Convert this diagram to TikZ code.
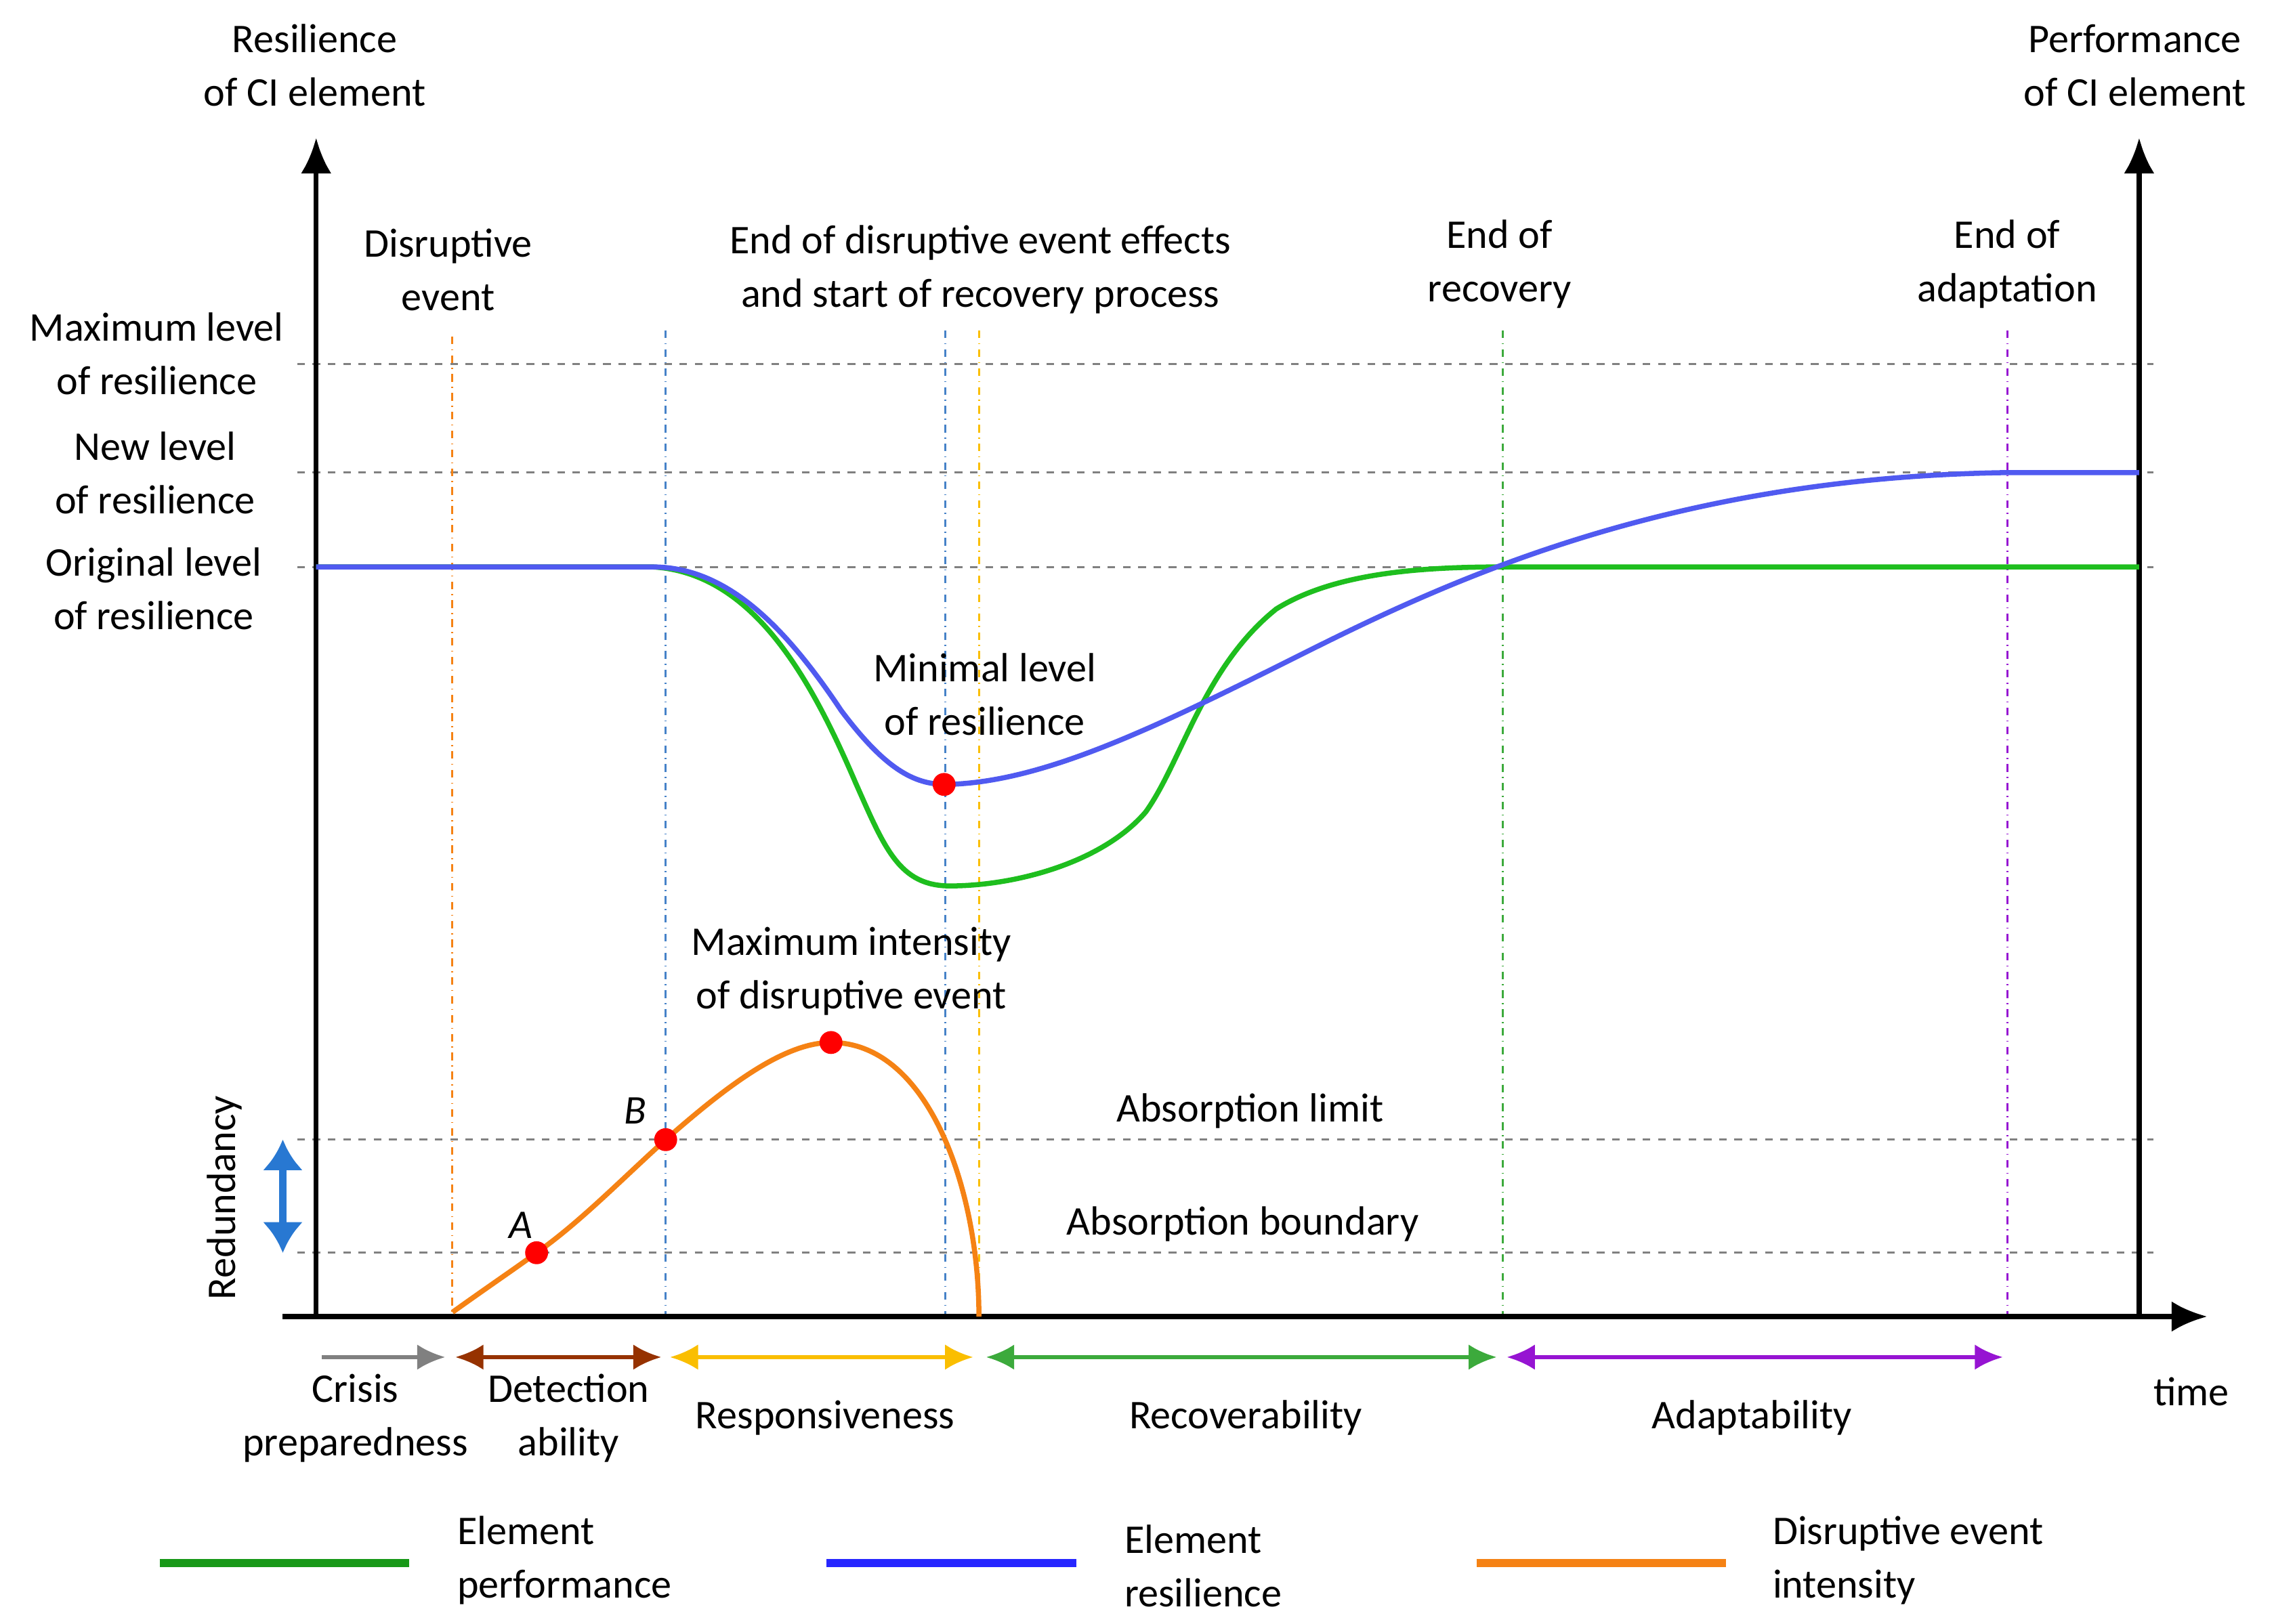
\documentclass[tikz,border=0pt]{standalone}
\usepackage{fontspec}
\setmainfont{Carlito}
\usetikzlibrary{arrows.meta}
\definecolor{cgreen}{RGB}{30,190,30}
\definecolor{cblue}{RGB}{80,90,240}
\definecolor{corange}{RGB}{245,130,20}
\definecolor{cyellow}{RGB}{250,190,0}
\definecolor{cbrown}{RGB}{150,50,0}
\definecolor{cpurple}{RGB}{150,20,210}
\definecolor{cgr}{RGB}{60,170,60}
\definecolor{cvblue}{RGB}{70,130,200}
\definecolor{clblue}{RGB}{40,120,210}
\begin{document}
\begin{tikzpicture}[x=0.02cm,y=-0.02cm,
  lbl/.style={font=\fontsize{16}{21}\selectfont,align=center,inner sep=0pt},
  grid/.style={gray,dashed,line width=0.8pt},
  vl/.style={dash dot,line width=0.8pt},
  ax/.style={line width=2pt,-{Latex[length=14pt,width=12pt]}},
  dot/.style={circle,fill=red,inner sep=0pt,minimum size=9pt},
  ph/.style={line width=1.5pt,{Latex[length=11pt,width=10pt]}-{Latex[length=11pt,width=10pt]}}]
\useasboundingbox (0,0) rectangle (1568,1120);
% grid lines
\foreach \y in {251,326,391,786,864} \draw[grid] (205,\y) -- (1485,\y);
% verticals
\draw[vl,corange] (312,232) -- (312,908);
\draw[vl,cvblue] (459,228) -- (459,908);
\draw[vl,cvblue] (652,228) -- (652,908);
\draw[vl,cyellow] (675,228) -- (675,908);
\draw[vl,cgr] (1036,228) -- (1036,908);
\draw[vl,cpurple] (1384,228) -- (1384,908);
% axes
\coordinate (o) at (218,908);
\coordinate (ly) at (218,95);
\coordinate (r0) at (1475,908);
\coordinate (ry) at (1475,95);
\coordinate (x0) at (195,908);
\coordinate (xe) at (1522,908);
\draw[ax] (o) -- (ly);
\draw[ax] (r0) -- (ry);
\draw[ax] (x0) -- (xe);
% curves
\draw[cgreen,line width=2pt] (218,391) -- (450,391)
  .. controls (520,395) and (560,470) .. (590,540)
  .. controls (610,585) and (620,611) .. (655,611)
  .. controls (700,611) and (760,595) .. (790,560)
  .. controls (815,525) and (830,460) .. (880,420)
  .. controls (920,395) and (980,391) .. (1036,391) -- (1475,391);
\draw[cblue,line width=2pt] (218,391) -- (450,391)
  .. controls (500,391) and (540,430) .. (580,490)
  .. controls (610,530) and (630,541) .. (652,541)
  .. controls (720,540) and (800,500) .. (900,450)
  .. controls (1000,400) and (1150,330) .. (1380,326) -- (1475,326);
\draw[corange,line width=2pt] (312,905) .. controls (340,885) and (355,875) .. (370,864)
  .. controls (400,843) and (430,812) .. (459,786)
  .. controls (500,750) and (540,719) .. (573,719)
  .. controls (640,719) and (675,820) .. (675,908);
\node[dot] (dm) at (651,541) {};
\node[dot] (da) at (370,864) {};
\node[dot] (db) at (459,786) {};
\node[dot] (dp) at (573,719) {};
% redundancy arrow
\coordinate (ra) at (195,786); \coordinate (rb) at (195,864);
\draw[clblue,line width=3pt,{Latex[length=12pt,width=16pt]}-{Latex[length=12pt,width=16pt]}] (ra) -- (rb);
% phase arrows
\coordinate (g1) at (222,936); \coordinate (g2) at (307,936);
\draw[gray,line width=1.5pt,-{Latex[length=11pt,width=10pt]}] (g1) -- (g2);
\coordinate (b1) at (314,936); \coordinate (b2) at (456,936);
\draw[ph,cbrown] (b1) -- (b2);
\coordinate (y1) at (462,936); \coordinate (y2) at (671,936);
\draw[ph,cyellow] (y1) -- (y2);
\coordinate (e1) at (680,936); \coordinate (e2) at (1032,936);
\draw[ph,cgr] (e1) -- (e2);
\coordinate (p1) at (1039,936); \coordinate (p2) at (1381,936);
\draw[ph,cpurple] (p1) -- (p2);
% labels
\node[lbl] (t1) at (217,45) {Resilience\\of CI element};
\node[lbl] (t2) at (1472,45) {Performance\\of CI element};
\node[lbl] (t3) at (309,186) {Disruptive\\event};
\node[lbl] (t4) at (676,186) {End of disruptive event effects\\and start of recovery process};
\node[lbl] (t5) at (1034,182) {End of\\recovery};
\node[lbl] (t6) at (1384,182) {End of\\adaptation};
\node[lbl] (t7) at (108,244) {Maximum level\\of resilience};
\node[lbl] (t8) at (107,326) {New level\\of resilience};
\node[lbl] (t9) at (106,406) {Original level\\of resilience};
\node[lbl] (t10) at (679,479) {Minimal level\\of resilience};
\node[lbl] (t11) at (587,670) {Maximum intensity\\of disruptive event};
\node[lbl] (t12) at (862,766) {Absorption limit};
\node[lbl] (t13) at (857,844) {Absorption boundary};
\node[lbl,font=\fontsize{16}{21}\selectfont\itshape,text=black] at (359,845) {\textit{A}};
\node[lbl,font=\fontsize{16}{21}\selectfont\itshape] at (438,766) {\textit{B}};
\node[lbl,rotate=90] (t14) at (155,826) {Redundancy};
\node[lbl] (t15) at (245,978) {Crisis\\preparedness};
\node[lbl] (t16) at (392,978) {Detection\\ability};
\node[lbl] (t17) at (569,978) {Responsiveness};
\node[lbl] (t18) at (859,978) {Recoverability};
\node[lbl] (t19) at (1208,978) {Adaptability};
\node[lbl] (t20) at (1511,960) {time};
% legend
\coordinate (lg1) at (110,1078); \coordinate (lg2) at (282,1078);
\draw[cgreen!80!black,line width=3pt] (lg1) -- (lg2);
\node[lbl,align=left,anchor=west] (l1) at (315,1076) {Element\\performance};
\coordinate (lb1) at (570,1078); \coordinate (lb2) at (742,1078);
\draw[blue!85!white,line width=3pt] (lb1) -- (lb2);
\node[lbl,align=left,anchor=west] (l2) at (775,1080) {Element\\resilience};
\coordinate (lo1) at (1018,1078); \coordinate (lo2) at (1190,1078);
\draw[corange,line width=3pt] (lo1) -- (lo2);
\node[lbl,align=left,anchor=west] (l3) at (1222,1076) {Disruptive event\\intensity};
\end{tikzpicture}
\end{document}
